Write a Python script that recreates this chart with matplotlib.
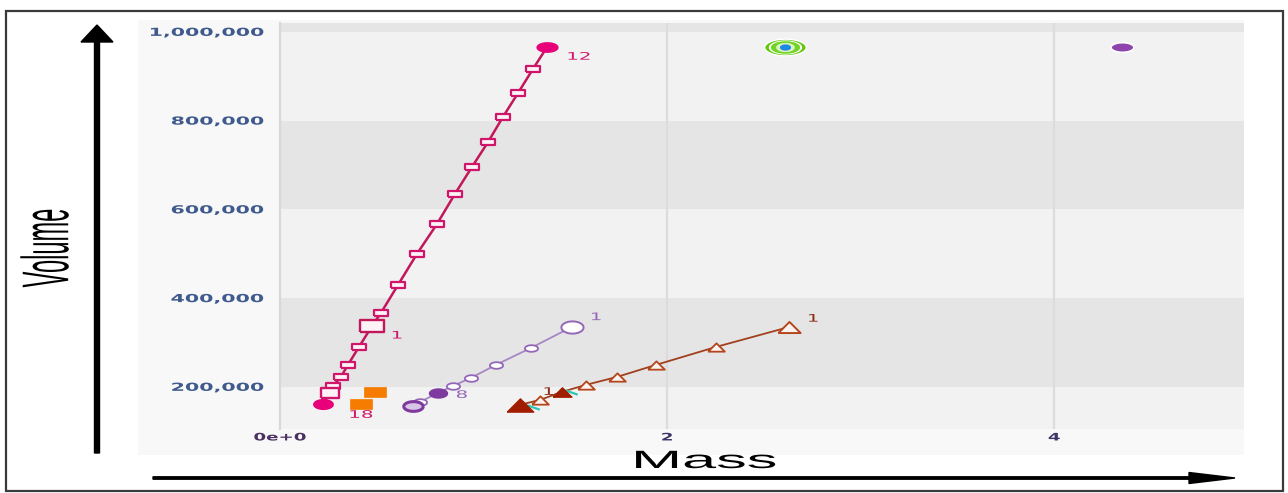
import numpy as np
import matplotlib
matplotlib.use("Agg")
import matplotlib.pyplot as plt
from matplotlib import patheffects
from matplotlib.transforms import Affine2D
from matplotlib.patches import Rectangle, FancyArrow

# pink series (line with small squares)
pink_x = [0.222, 0.258, 0.274, 0.315, 0.351, 0.408, 0.476, 0.522, 0.610, 0.708,
          0.811, 0.904, 0.992, 1.075, 1.152, 1.230, 1.307, 1.380]
pink_y = [162000, 186500, 202000, 222500, 249600, 290000, 337500, 367000, 430000, 500000,
          567000, 635000, 695800, 752000, 808500, 862500, 916600, 966000]
pink_start = (0.476, 337500)
pink_low = (0.222, 162000)
pink_end = (1.380, 966000)

orange_x = [0.491, 0.419]
orange_y = [187500, 161000]

purple_x = [1.509, 1.297, 1.116, 0.987, 0.894, 0.817, 0.724, 0.687]
purple_y = [335200, 287900, 249600, 220300, 202200, 186500, 166000, 157000]

brown_x = [2.630, 2.253, 1.943, 1.742, 1.581, 1.457, 1.344, 1.240]
brown_y = [334900, 290000, 249600, 222500, 204500, 188700, 170700, 159500]

cyan_x = [1.504, 1.307]
cyan_y = [188700, 155000]

target = (2.610, 966000)
violet_dot = (4.351, 966000)

y_ticks = [200000, 400000, 600000, 800000, 1000000]
y_labels = ["200,000", "400,000", "600,000", "800,000", "1,000,000"]
x_ticks = [0, 2, 4]
x_labels = ["0e+0", "2", "4"]


class Stretch(patheffects.AbstractPathEffect):
    # the reference is squashed sideways, so widen the glyphs
    def __init__(self, sx=2.0, pivot="center"):
        super().__init__()
        self.sx = sx
        self.pivot = pivot

    def draw_path(self, renderer, gc, tpath, affine, rgbFace=None):
        bb = tpath.get_extents(affine)
        px = {"left": bb.x0, "center": 0.5 * (bb.x0 + bb.x1), "right": bb.x1}[self.pivot]
        tr = affine + Affine2D().translate(-px, 0).scale(self.sx, 1).translate(px, 0)
        renderer.draw_path(gc, tpath, tr, rgbFace)


def box(h=0.5):
    return [(-1, -h), (1, -h), (1, h), (-1, h), (-1, -h)]


def oval(h=0.5):
    t = np.linspace(0, 2 * np.pi, 48)
    return list(zip(np.cos(t), h * np.sin(t)))


def tri(h=0.5):
    return [(-1, -h), (1, -h), (0, h), (-1, -h)]


W, H = 1288, 493
fig = plt.figure(figsize=(W / 100, H / 100), dpi=100)
fig.patch.set_facecolor("white")

bg = fig.add_axes([0, 0, 1, 1], zorder=0)
bg.set_xlim(0, W)
bg.set_ylim(H, 0)
bg.axis("off")
bg.add_patch(Rectangle((138, 20), 1106, 435, facecolor="#f8f8f8", edgecolor="none"))
bg.add_patch(Rectangle((6, 11), 1277, 480, fill=False, edgecolor="#3a3a3a", lw=1.6))
bg.add_patch(FancyArrow(97, 453, 0, -428, width=5, head_width=32, head_length=17,
                        length_includes_head=True, color="black"))
bg.add_patch(FancyArrow(153, 478, 1082, 0, width=2.4, head_width=11, head_length=46,
                        length_includes_head=True, color="black"))
bg.text(47, 248, "Volume", rotation=90, ha="center", va="center", fontsize=17,
        family=["Liberation Sans", "DejaVu Sans"], color="black",
        path_effects=[Stretch(2.8, "center")])
bg.text(705, 461, "Mass", ha="center", va="center", fontsize=18,
        family=["Liberation Sans", "DejaVu Sans"], color="black",
        path_effects=[Stretch(2.45, "center")])

ax = fig.add_axes([280 / W, 1 - 429 / H, 964 / W, 406 / H], zorder=1)
ax.set_facecolor("#f2f2f2")
ax.set_xlim(0, 4.98)
ax.set_ylim(105000, 1020000)
for lo, hi in [(200000, 400000), (600000, 800000), (1000000, 1200000)]:
    ax.axhspan(lo, hi, color="#e5e5e5", lw=0, zorder=0)
for xv in [2, 4]:
    ax.axvline(xv, color="#dcdcdc", lw=1.6, zorder=0.5)
for s in ["top", "right", "bottom"]:
    ax.spines[s].set_visible(False)
ax.spines["left"].set_color("#d8d8d8")
ax.spines["left"].set_linewidth(1.6)

ax.set_yticks(y_ticks)
ax.set_yticklabels(y_labels, fontweight="bold")
ax.tick_params(axis="y", length=0, pad=12, labelsize=8, labelcolor="#3f5a8c")
for lab in ax.get_yticklabels():
    lab.set_path_effects([Stretch(1.85, "right")])
ax.set_xticks(x_ticks)
ax.set_xticklabels(x_labels, fontweight="bold")
ax.tick_params(axis="x", length=0, pad=2.5, labelsize=7.5, labelcolor="#3d3566")
for lab in ax.get_xticklabels():
    lab.set_path_effects([Stretch(1.75, "center")])
ax.get_xticklabels()[0].set_color("#4b3060")

PINK = "#d0166b"
lab_kw = dict(textcoords="offset points", fontsize=7.5, ha="left", va="center",
              path_effects=[Stretch(1.9, "left")], zorder=3)

# pink series
ax.plot(pink_x, pink_y, color="#c2185b", lw=1.8, zorder=2)
ax.plot(pink_x[2:-1], pink_y[2:-1], ls="none", marker=box(0.45), ms=9.6,
        mfc="#fdf3f7", mec=PINK, mew=1.6, zorder=2.2)
ax.plot([pink_x[1]], [pink_y[1]], ls="none", marker=box(0.5), ms=13,
        mfc="#fdf3f7", mec=PINK, mew=1.7, zorder=2.3)
ax.plot(*pink_start, ls="none", marker=box(0.55), ms=17, mfc="#fdf3f7", mec="#c2185b",
        mew=1.7, zorder=2.4)
ax.plot(*pink_low, ls="none", marker=oval(0.5), ms=14, mfc="#e8007a", mec="#e8007a", zorder=2.5)
ax.plot(*pink_end, ls="none", marker=oval(0.45), ms=15, mfc="#e8007a", mec="#e8007a", zorder=2.5)
ax.annotate("12", pink_end, xytext=(14.5, -7), color=PINK, **lab_kw)
ax.annotate("1", pink_start, xytext=(14, -7), color=PINK, **lab_kw)
ax.annotate("18", pink_low, xytext=(19, -8), color=PINK, **lab_kw)

# orange boxes
ax.plot(orange_x, orange_y, ls="none", marker=box(0.42), ms=15.5, mfc="#f57c00",
        mec="#f57c00", mew=0.5, zorder=2.1)

# purple series
PURP = "#9466b8"
ax.plot(purple_x, purple_y, color="#a886c4", lw=1.3, zorder=2)
ax.plot(purple_x[1:5] + purple_x[6:7], purple_y[1:5] + purple_y[6:7], ls="none",
        marker=oval(0.5), ms=9.5, mfc="white", mec=PURP, mew=1.3, zorder=2.2)
ax.plot(purple_x[0], purple_y[0], ls="none", marker=oval(0.55), ms=16, mfc="white",
        mec=PURP, mew=1.4, zorder=2.2)
ax.plot(purple_x[5], purple_y[5], ls="none", marker=oval(0.5), ms=13, mfc="#7e3a9e",
        mec="#7e3a9e", zorder=2.3)
ax.plot(purple_x[7], purple_y[7], ls="none", marker=oval(0.5), ms=14, mfc="#d9c6e6",
        mec="#7e3a9e", mew=2.2, zorder=2.3)
ax.annotate("1", (purple_x[0], purple_y[0]), xytext=(13.5, 7), color=PURP, **lab_kw)
ax.annotate("8", (purple_x[5], purple_y[5]), xytext=(13, -1.5), color=PURP, **lab_kw)

# brown series
BROWN = "#b5451b"
ax.plot(brown_x, brown_y, color="#a0401e", lw=1.3, zorder=2)
ax.plot(brown_x[1:5] + brown_x[6:7], brown_y[1:5] + brown_y[6:7], ls="none",
        marker=tri(0.5), ms=12, mfc="#fbf3f0", mec=BROWN, mew=1.3, zorder=2.2)
ax.plot(brown_x[0], brown_y[0], ls="none", marker=tri(0.5), ms=16, mfc="#fbf3f0",
        mec=BROWN, mew=1.4, zorder=2.2)
ax.annotate("1", (brown_x[0], brown_y[0]), xytext=(13.5, 6), color="#8a2b12", **lab_kw)
ax.annotate("1", (brown_x[5], brown_y[5]), xytext=(-13.5, 0), color="#8a2b12", **lab_kw)
ax.plot(brown_x[5], brown_y[5], ls="none", marker=tri(0.5), ms=13.5, mfc="#a11d00",
        mec="#a11d00", zorder=2.4)
ax.plot(brown_x[7], brown_y[7], ls="none", marker=tri(0.5), ms=19, mfc="#a11d00",
        mec="#a11d00", zorder=2.4)
ax.plot(cyan_x, cyan_y, ls="none", marker=[(-1, 0.35), (1, -0.35)], ms=9,
        mec="#2cc7b5", mew=1.6, zorder=2.3)

# top-right singles
ax.plot(*target, ls="none", marker=oval(0.4), ms=30, mfc="#62c80c", mec="white", mew=1, zorder=2)
ax.plot(*target, ls="none", marker=oval(0.4), ms=23, mfc="white", mec="white", zorder=2.1)
ax.plot(*target, ls="none", marker=oval(0.4), ms=20, mfc="#72d322", mec="#72d322", zorder=2.2)
ax.plot(*target, ls="none", marker=oval(0.45), ms=12.5, mfc="#d9f5c0", mec="#d9f5c0", zorder=2.3)
ax.plot(*target, ls="none", marker=oval(0.5), ms=7, mfc="#1e88e5", mec="#1e88e5", zorder=2.4)
ax.plot(*violet_dot, ls="none", marker=oval(0.42), ms=16.5, mfc="#8e44ad", mec="white",
        mew=1.2, zorder=2)

fig.savefig("out.png", dpi=100, facecolor="white")
